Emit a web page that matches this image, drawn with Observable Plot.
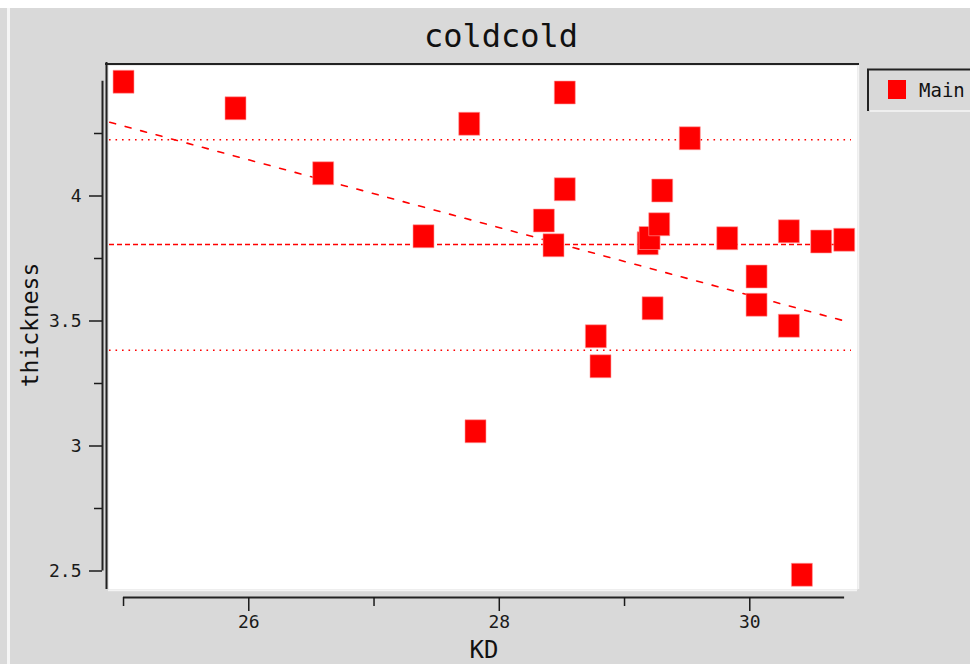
<!DOCTYPE html>
<html>
<head>
<meta charset="utf-8">
<script src="https://cdn.jsdelivr.net/npm/d3@7"></script>
<script src="https://cdn.jsdelivr.net/npm/@observablehq/plot@0.6"></script>
<style>
  body { margin: 0; background: #d9d9d9; }
  #chart { width: 970px; height: 664px; overflow: hidden; }
</style>
</head>
<body>
<div id="chart"></div>
<script>
// ---- data ----
const kd = [25.00, 25.894, 26.594, 27.395, 27.760, 27.810, 28.356, 28.433, 28.523, 28.523,
            28.771, 28.808, 29.224, 29.185, 29.200, 29.277, 29.301, 29.521, 29.820, 30.054,
            30.054, 30.312, 30.312, 30.416, 30.570, 30.754];
const thickness = [4.457, 4.351, 4.091, 3.839, 4.289, 3.059, 3.902, 3.803, 4.414, 4.027,
                   3.439, 3.319, 3.551, 3.811, 3.832, 3.887, 4.022, 4.231, 3.831, 3.678,
                   3.565, 3.859, 3.481, 2.485, 3.818, 3.825];
const meanThickness = [3.806];
const bandThickness = [4.225, 3.383];
const trendKD = [24.89, 30.78];
const trendThickness = [4.295, 3.497];
const xMajorTicks = [26, 28, 30];
const xMinorTicks = [25, 27, 29];
const yMajorTicks = [2.5, 3, 3.5, 4];
const yMinorTicks = [2.75, 3.25, 3.75, 4.25];
const xAxisExtent = [25, 30.757];
const yAxisExtent = [2.5, 4.459];
const xDomain = [24.88, 30.86];
const yDomain = [2.426, 4.522];
const titleText = "coldcold";
const xLabel = "KD";
const yLabel = "thickness";
const seriesName = "Main";

const points = kd.map((x, i) => ({x, y: thickness[i]}));
const trend = trendKD.map((x, i) => ({x, y: trendThickness[i]}));
const xAxisLine = [{y: yDomain[0], x1: xAxisExtent[0], x2: xAxisExtent[1]}];
const yAxisLine = [{x: xDomain[0], y1: yAxisExtent[0], y2: yAxisExtent[1]}];

const squareSymbol = { draw(ctx) { ctx.rect(-10.5, -11.5, 21, 23); } };
const mono = "DejaVu Sans Mono";

const svg = Plot.plot({
  width: 970,
  height: 664,
  marginLeft: 108,
  marginRight: 113,
  marginTop: 65,
  marginBottom: 75,
  style: {background: "#d9d9d9", fontFamily: mono, fontSize: "18px", color: "#1a1a1a", overflow: "visible"},
  x: {domain: xDomain, label: null},
  y: {domain: yDomain, label: null},
  marks: [
    Plot.frame({fill: "white", stroke: null}),
    Plot.ruleX([xDomain[0]], {dx: -2, insetTop: -3, stroke: "#222", strokeWidth: 2}),
    Plot.ruleY([yDomain[1]], {dy: -1.5, insetLeft: -3, insetRight: -2, stroke: "#222", strokeWidth: 2}),
    Plot.ruleX([xDomain[1]], {dx: 1, stroke: "#f4f4f4", strokeWidth: 1.5}),
    Plot.ruleY([yDomain[0]], {dy: 1, stroke: "#f4f4f4", strokeWidth: 1.5}),
    Plot.ruleY(bandThickness, {stroke: "#ff0000", strokeDasharray: "1.6,4.9", strokeWidth: 1.6, insetLeft: 1, insetRight: 6}),
    Plot.ruleY(meanThickness, {stroke: "#ff0000", strokeDasharray: "5,3", strokeWidth: 1.5, insetLeft: 1, insetRight: 4}),
    Plot.line(trend, {x: "x", y: "y", stroke: "#ff0000", strokeDasharray: "6,10", strokeWidth: 1.6}),
    Plot.dot(points, {x: "x", y: "y", symbol: squareSymbol, r: 12, fill: "#ff0000", stroke: "#ff9d9d", strokeWidth: 0.6}),
    // axes
    Plot.ruleY(xAxisLine, {y: "y", x1: "x1", x2: "x2", dy: 8, stroke: "#222", strokeWidth: 2}),
    Plot.ruleX(yAxisLine, {x: "x", y1: "y1", y2: "y2", dx: -6, stroke: "#222", strokeWidth: 2}),
    Plot.axisX(xMajorTicks, {anchor: "bottom", tickSize: 14, tickPadding: 4, dy: 8, strokeWidth: 1.5, fontSize: 18, fontFamily: mono, fill: "#1a1a1a", tickFormat: d => String(d), label: null}),
    Plot.axisX(xMinorTicks, {anchor: "bottom", tickSize: 9, dy: 8, strokeWidth: 1.5, tickFormat: () => "", label: null}),
    Plot.axisY(yMajorTicks, {anchor: "left", tickSize: 13, tickPadding: 8, dx: -6, strokeWidth: 1.5, fontSize: 18, fontFamily: mono, fill: "#1a1a1a", tickFormat: d => String(d), label: null}),
    Plot.axisY(yMinorTicks, {anchor: "left", tickSize: 8, dx: -6, strokeWidth: 1.5, tickFormat: () => "", label: null})
  ]
});

const s = d3.select(svg);
// window edges
s.insert("rect", ":first-child").attr("x", 7).attr("y", 8).attr("width", 3).attr("height", 656).attr("fill", "#f6f6f6");
s.insert("rect", ":first-child").attr("x", 0).attr("y", 0).attr("width", 970).attr("height", 8).attr("fill", "white");

s.append("text").attr("x", 501).attr("y", 47).attr("text-anchor", "middle")
  .attr("font-family", mono).attr("font-size", 32).attr("fill", "#111").text(titleText);
s.append("text").attr("x", 484).attr("y", 658).attr("text-anchor", "middle")
  .attr("font-family", mono).attr("font-size", 24).attr("fill", "#111").text(xLabel);
s.append("text").attr("transform", "translate(38,325) rotate(-90)").attr("text-anchor", "middle")
  .attr("font-family", mono).attr("font-size", 23).attr("fill", "#111").text(yLabel);

// legend
const lg = s.append("g");
lg.append("path").attr("d", "M868,111V69.5H975").attr("fill", "none").attr("stroke", "#222").attr("stroke-width", 2);
lg.append("path").attr("d", "M870,111H975").attr("fill", "none").attr("stroke", "#f6f6f6").attr("stroke-width", 1.5);
lg.append("rect").attr("x", 888).attr("y", 80).attr("width", 18).attr("height", 19).attr("fill", "#ff0000");
lg.append("text").attr("x", 919).attr("y", 97).attr("text-anchor", "start")
  .attr("font-family", mono).attr("font-size", 19).attr("fill", "#111").text(seriesName);

document.getElementById("chart").appendChild(svg);
</script>
</body>
</html>
